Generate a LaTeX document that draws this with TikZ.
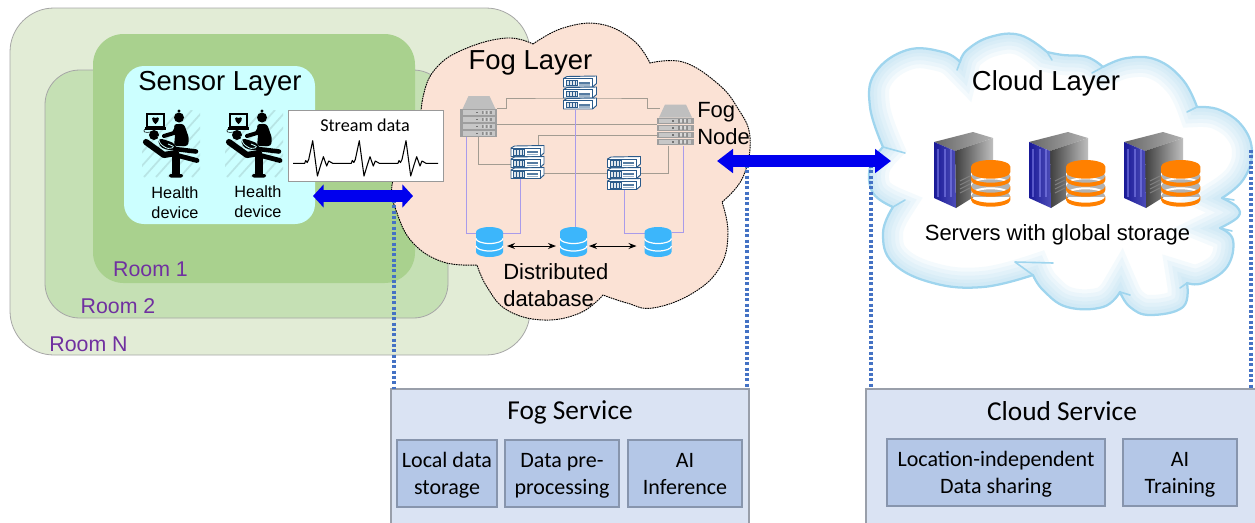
\documentclass[tikz,border=0pt]{standalone}
\usepackage{fontspec}
\setmainfont{Liberation Sans}
\newfontfamily\calfont{Carlito}
\usetikzlibrary{arrows.meta,calc}
\definecolor{roomn}{HTML}{E2ECD6}
\definecolor{roomb}{HTML}{C5E0B4}
\definecolor{rooma}{HTML}{A9D18E}
\definecolor{sens}{HTML}{CCFFFF}
\definecolor{fogc}{HTML}{FBE2D5}
\definecolor{svc}{HTML}{DAE3F3}
\definecolor{sub}{HTML}{B4C7E7}
\definecolor{roomtxt}{HTML}{7030A0}
\definecolor{dotblue}{HTML}{4472C4}
\definecolor{arrowblue}{HTML}{0000EE}
\definecolor{cloudb}{HTML}{9FD5EE}
\definecolor{linkg}{HTML}{A39C92}
\definecolor{linkp}{HTML}{A99BEA}
\definecolor{navy}{HTML}{2A5A8A}
\definecolor{dbblue}{HTML}{3CB6FB}
\definecolor{dbor}{HTML}{FF8000}
\newcommand{\twolines}[2]{\raisebox{-1.9pt}[\height][\depth]{\begin{tabular}{@{}c@{}}#1\\#2\end{tabular}}}
\tikzset{
  pxbox/.style 2 args={minimum width=#1*0.75pt,minimum height=#2*0.75pt,inner sep=0pt,outer sep=0pt},
  room/.style={draw=black!35,line width=.6pt},
  roomlabel/.style={text=roomtxt,font=\fontsize{16}{20}\selectfont,inner sep=0pt},
  layertitle/.style={font=\fontsize{20.6}{25}\selectfont,inner sep=0pt},
  midtext/.style={font=\fontsize{16.5}{20.25}\selectfont,align=center,inner sep=0pt},
  healthtext/.style={font=\fontsize{12.2}{15}\selectfont,align=center,inner sep=0pt},
  svcbox/.style={fill=svc,draw=black!30!svc,line width=.8pt},
  subbox/.style={fill=sub,draw=black!25!sub,line width=.8pt,font=\calfont\fontsize{16.5}{20.25}\selectfont},
  svctitle/.style={font=\calfont\fontsize{20.5}{25}\selectfont,inner sep=0pt},
  dotline/.style={draw=dotblue,line width=2.6pt,dash pattern=on 2.2pt off 1.8pt},
  bigarrow/.style={arrowblue,line width=9pt},
  glink/.style={linkg,line width=.75pt},
  plink/.style={linkp,line width=.75pt},
  dblarrow/.style={black,line width=.7pt,{Stealth[length=6pt,width=4.5pt]}-{Stealth[length=6pt,width=4.5pt]}},
  pics/grayserver/.style={code={
    \fill[black!25] (-16,-7.5) -- (-10,-20.5) -- (11,-20.5) -- (17,-7.5) -- cycle;
    \foreach \i in {0,1,2,3}{
      \pgfmathsetmacro\yy{-7.5+7*\i}
      \fill[black!38] (-18.5,\yy) rectangle (18.5,\yy+6.7);
      \fill[black!22] (-16,\yy+1.2) rectangle (16,\yy+5.5);
      \fill[black!55] (-3,\yy+2.5) rectangle (-1,\yy+4.2);
      \fill[black!45] (3,\yy+1.5) rectangle (13,\yy+5);
      \fill[black!15] (5,\yy+1.5) rectangle (7,\yy+5) (9,\yy+1.5) rectangle (11,\yy+5);
    }
  }},
  pics/rackserver/.style={code={
    \foreach \i in {0,1,2}{
      \pgfmathsetmacro\yy{-16.5+11*\i}
      \draw[navy,line width=.7pt,fill=white,line join=round] (-16.5,\yy+2) -- (-13,\yy) -- (16.5,\yy-.5) -- (16.5,\yy+7) -- (12.5,\yy+10.5) -- (-16.5,\yy+10.5) -- cycle;
      \draw[navy,line width=.4pt] (12.5,\yy+10.5) -- (12.5,\yy+2) -- (-16.5,\yy+2);
      \draw[navy,line width=.35pt,fill=navy!15] (-14,\yy+3.5) rectangle (-3,\yy+9);
      \foreach \s in {-11,-8,-5}{\draw[navy,line width=.4pt] (\s,\yy+4) -- (\s,\yy+8.5);}
      \fill[navy!80] (-1,\yy+5) rectangle (10,\yy+7);
      \fill[navy!45] (-1,\yy+7.5) rectangle (10,\yy+9);
    }
  }},
  pics/bluedb/.style={code={
    \fill[dbblue] (-13.5,-10) arc[start angle=180,end angle=360,x radius=13.5,y radius=5] -- (13.5,10) arc[start angle=0,end angle=180,x radius=13.5,y radius=5] -- cycle;
    \draw[white,line width=.9pt] (-13.5,-3.5) arc[start angle=180,end angle=0,x radius=13.5,y radius=5];
    \draw[white,line width=.9pt] (-13.5,4) arc[start angle=180,end angle=0,x radius=13.5,y radius=5];
  }},
  pics/cloudserver/.style={code={
    \shade[left color=black!60,right color=black!30] (14,17) -- (53,7) -- (73,13) -- (35,26) -- cycle;
    \shade[left color=black!75,right color=black!25] (35,26) -- (73,13) -- (73,60) -- (36,83) -- cycle;
    \shade[left color=blue!55!black!90,right color=blue!60!black!70] (14,17) -- (35,26) -- (36,83) -- (14,73) -- cycle;
    \foreach \s in {18,25,31}{\draw[blue!40!white,opacity=.45,line width=1.4pt] (\s,24) -- (\s,72);}
    \foreach \s in {0,1,2,3}{\draw[black!50,line width=.8pt] (40,68-\s*4) -- (50,63-\s*4);}
    \fill[black!30] (51,47) rectangle (90.4,72);
    \foreach \t in {20,10,0}{
      \fill[dbor] (51,51+\t) arc[start angle=180,end angle=0,x radius=19.7,y radius=6.7] -- (90.4,55+\t) arc[start angle=0,end angle=180,x radius=19.7,y radius=6.7] -- cycle;
      \fill[white] (51,49+\t) -- (51,51+\t) arc[start angle=180,end angle=360,x radius=19.7,y radius=6.7] -- (90.4,49+\t) arc[start angle=360,end angle=180,x radius=19.7,y radius=6.7] -- cycle;
    }
    \fill[dbor] (51,41.7) arc[start angle=180,end angle=360,x radius=19.7,y radius=6.7] -- (90.4,47) arc[start angle=0,end angle=180,x radius=19.7,y radius=6.7] -- cycle;
  }},
  pics/patient/.style={code={
    \begin{scope}
      \clip (12,10) rectangle (70,77);
      \foreach \d in {0,12,...,72}{\draw[black!10!sens,line width=1.3pt] (\d-10,77) -- (\d+50,10);}
    \end{scope}
    \draw[black,line width=.9pt,fill=sens] (17,14) rectangle (34,27);
    \fill[black] (25.5,24) .. controls (20,19.5) and (22,15.5) .. (25.5,18) .. controls (29,15.5) and (31,19.5) .. (25.5,24) -- cycle;
    \fill[black] (15,27) rectangle (36,29.5);
    \draw[black,line width=.4pt] (15,29) .. controls (12,32) and (15,33) .. (21,32);
    \fill[black] (49,17.5) circle[radius=5];
    \fill[black] (49,11) circle[radius=1.7];
    \fill[black,rounded corners=2pt] (44,24) -- (54,24) -- (59,38) -- (58,46) -- (44,46) -- (45,36) -- cycle;
    \draw[black,line width=3pt,line cap=round,line join=round] (34,36) -- (44,33) -- (47,27);
    \fill[black] (24,35) circle[radius=5];
    \draw[black,line width=4.6pt,line cap=round,line join=round] (16,42) -- (34,55) -- (46,53);
    \fill[black,rounded corners=3pt] (28,38) -- (36,40) -- (46,44) -- (46,50) -- (36,50) -- (29,46) -- cycle;
    \draw[sens,line width=.6pt,rounded corners=2pt] (28,36) -- (30,44) -- (38,49) -- (45,47) -- (38,44);
    \draw[black,line width=3.4pt,line cap=round,line join=round] (45,49) -- (66,51.5);
    \draw[black,line width=3.6pt,line cap=round] (42,54) -- (67,60.5);
    \fill[black] (42,54) rectangle (50,75);
    \fill[black,rounded corners=1.5pt] (39,74) rectangle (53,77.5);
  }}
}
\newcommand{\fogpath}{plot[smooth,tension=.7] coordinates {(533,44)(563,28)(600,24)(633,40)(650,63)} -- plot[smooth,tension=.7] coordinates {(650,63)(683,62)(717,83)(737,107)(750,137)(743,177)(722,202)} -- plot[smooth,tension=.7] coordinates {(722,202)(728,233)(720,267)(693,293)(653,308)(627,303)(603,295)} -- plot[smooth,tension=.7] coordinates {(603,295)(580,313)(543,320)(507,310)(487,287)(477,265)} -- plot[smooth,tension=.7] coordinates {(477,265)(443,262)(413,243)(397,213)(392,185)(405,155)(420,140)} -- plot[smooth,tension=.7] coordinates {(420,140)(423,97)(437,67)(467,48)(507,38)(533,44)} -- cycle}
\newcommand{\cloudpath}{plot[smooth,tension=.7] coordinates {(960,62)(967,50)(990,37)(1020,35)(1047,52)} -- plot[smooth,tension=.7] coordinates {(1047,52)(1063,55)(1087,57)(1103,67)} -- plot[smooth,tension=.7] coordinates {(1103,67)(1127,58)(1157,60)(1183,80)(1197,107)} -- plot[smooth,tension=.7] coordinates {(1197,107)(1220,110)(1243,127)(1252,153)(1243,180)(1222,198)} -- plot[smooth,tension=.7] coordinates {(1222,198)(1237,207)(1238,217)(1220,228)} -- plot[smooth,tension=.7] coordinates {(1220,228)(1233,240)(1227,267)(1203,283)(1187,283)} -- plot[smooth,tension=.7] coordinates {(1187,283)(1183,307)(1150,315)(1130,307)(1120,292)} -- plot[smooth,tension=.7] coordinates {(1120,292)(1103,307)(1067,307)(1043,290)(1033,275)} -- plot[smooth,tension=.7] coordinates {(1033,275)(983,287)(933,283)(893,263)(883,233)(893,207)} -- plot[smooth,tension=.7] coordinates {(893,207)(873,193)(870,167)(883,147)} -- plot[smooth,tension=.7] coordinates {(883,147)(870,107)(875,73)(907,50)(943,52)(960,62)} -- cycle}
\begin{document}
\begin{tikzpicture}[x=0.75pt,y=-0.75pt]
\useasboundingbox (0,0) rectangle (1255,522);
\begin{scope}
\clip (0,0) rectangle (1255,522);
% rooms
\node[room,fill=roomn,pxbox={520}{347},rounded corners=33pt] (roomN) at (270,181.5) {};
\node[room,fill=roomb,pxbox={403}{248},rounded corners=26pt] (room2) at (246.5,194) {};
\node[fill=rooma,pxbox={322}{249},rounded corners=23pt] (room1) at (254,158.5) {};
\node[fill=sens,pxbox={191}{158},rounded corners=15pt] (sensor) at (219.5,145) {};
\node[roomlabel] (lab1) at (150.5,269) {Room 1};
\node[roomlabel] (lab2) at (118,306.5) {Room 2};
\node[roomlabel] (labN) at (88.5,344.5) {Room N};
\node[layertitle] (senst) at (220,84) {Sensor Layer};
\pic at (130,100) {patient};
\pic at (213,100) {patient};
\node[healthtext] (hd1) at (175,202.5) {Health\\device};
\node[healthtext] (hd2) at (258,202) {Health\\device};
% fog cloud
\draw[fill=fogc,draw=black,line width=.7pt,dash pattern=on 1.2pt off .6pt] \fogpath;
\node[layertitle] (fogt) at (530.5,63) {Fog Layer};
\node[midtext,anchor=west,align=left] (fognode) at (697,124) {Fog\\Node};
\node[midtext,anchor=west,align=left] (dist) at (503,285) {Distributed\\database};
% fog nodes
\node[pxbox={37}{41}] (fs1) at (478.5,116.5) {};
\node[pxbox={37}{41}] (fs2) at (675,125) {};
\node[pxbox={33}{33}] (rk1) at (580,93) {};
\node[pxbox={33}{33}] (rk2) at (527.5,162.5) {};
\node[pxbox={33}{33}] (rk3) at (624,173.5) {};
\node[pxbox={27}{30}] (db1) at (489.5,242) {};
\node[pxbox={27}{30}] (db2) at (573.5,242) {};
\node[pxbox={27}{30}] (db3) at (658,242) {};
% links
\draw[glink] ($(fs1.east)+(0,-8.5)$) -- ++(9,0) |- ($(rk1.west)+(0,5)$) -- ($(rk1.east)+(0,5)$) -- ++(51,0) |- ($(fs2.west)+(3,-17)$);
\draw[glink] ($(fs1.east)+(0,8)$) -- ($(fs2.west)+(0,-.5)$);
\draw[glink] ($(fs2.west)+(0,10)$) -| ($(rk2.north)+(10.5,0)$);
\draw[glink] (fs1.south) |- ($(rk2.west)+(0,1.5)$);
\draw[glink] ($(rk2.east)+(0,10.5)$) -| ($(fs2.south)+(-7,0)$);
\draw[plink] ($(fs1.south)+(-12.5,0)$) |- ($(db1.west)+(0,-9)$);
\draw[plink] ($(rk2.south)+(-7.5,0)$) |- ($(db1.east)+(0,-9)$);
\draw[plink] ($(rk1.south)+(-5,0)$) -- ($(db2.north)+(1.5,0)$);
\draw[plink] (rk3.south) |- ($(db3.west)+(0,-9)$);
\draw[plink] ($(fs2.south)+(8,0)$) |- ($(db3.east)+(0,-10)$);
\pic at (fs1) {grayserver};
\pic at (fs2) {grayserver};
\pic at (rk1) {rackserver};
\pic at (rk2) {rackserver};
\pic at (rk3) {rackserver};
\pic at (db1) {bluedb};
\pic at (db2) {bluedb};
\pic at (db3) {bluedb};
\draw[dblarrow] ($(db1.east)+(4,4)$) -- ($(db2.west)+(-4,4)$);
\draw[dblarrow] ($(db2.east)+(2,4)$) -- ($(db3.west)+(-8,4)$);
% cloud
\begin{scope}
\fill[white] \cloudpath;
\clip \cloudpath;
\foreach \w in {30,24,18,12,7}{\draw[cloudb,opacity=.11,line width=\w pt] \cloudpath;}
\end{scope}
\draw[cloudb,line width=1.7pt,line join=round] \cloudpath;
\draw[cloudb,line width=1.2pt,line cap=round] (960,62) -- (957,70) (1047,52) -- (1052,60) (1103,67) -- (1092,73) (1197,107) -- (1187,112) (1222,198) -- (1234,200) (1220,228) -- (1232,231) (1187,283) -- (1180,288) (1120,292) -- (1130,295) (1033,275) -- (1015,262) (1015,262) -- (1053,263) (893,207) -- (905,200) (883,147) -- (905,153);
\node[layertitle] (cloudt) at (1046,83) {Cloud Layer};
\pic at (920,125) {cloudserver};
\pic at (1015,125) {cloudserver};
\pic at (1110,125) {cloudserver};
\node[midtext] (srv) at (1057.5,235) {Servers with global storage};
% services
\node[svcbox,pxbox={358}{136}] (fogsvc) at (570,457) {};
\node[svcbox,pxbox={391}{136}] (cloudsvc) at (1061.5,457) {};
\node[svctitle] (fogst) at (570,412) {Fog Service};
\node[svctitle] (cloudst) at (1062,411) {Cloud Service};
\node[subbox,pxbox={100}{67}] (s1) at (447,473.5) {\twolines{Local data}{storage}};
\node[subbox,pxbox={114}{67}] (s2) at (562,473.5) {\twolines{Data pre-}{processing}};
\node[subbox,pxbox={114}{67}] (s3) at (685,473.5) {\twolines{AI}{Inference}};
\node[subbox,pxbox={218}{67}] (s4) at (996,472.5) {\twolines{Location-independent}{Data sharing}};
\node[subbox,pxbox={114}{67}] (s5) at (1180,472.5) {\twolines{AI}{Training}};
% dotted drops
\coordinate (d1) at (394,200);
\coordinate (d2) at (747,165);
\coordinate (d3) at (871,165);
\coordinate (d4) at (1251,150);
\draw[dotline] (d1) -- (d1 |- fogsvc.north);
\draw[dotline] (d2) -- (d2 |- fogsvc.north);
\draw[dotline] (d3) -- (d3 |- cloudsvc.north);
\draw[dotline] (d4) -- (d4 |- cloudsvc.north);
% stream data
\node[draw=black!40,fill=white,line width=.6pt,pxbox={155}{71}] (stream) at (365.5,145.5) {};
\node[font=\calfont\fontsize{13.6}{16}\selectfont,inner sep=0pt] (streamt) at (365,125) {Stream data};
\draw[black,line width=.8pt,line join=round] (293,163.3) \foreach \p in {312.7,359.3,406}{ -- (\p-19,163.3) -- (\p-8,163.3) -- (\p-7,160.5) -- (\p-5.5,162.5) -- (\p-4,159.5) -- (\p,140.7) -- (\p+4.7,176) -- (\p+8,165) -- (\p+10.7,156.7) -- (\p+14,166) -- (\p+16,161) -- (\p+20,163.3)} -- (438,163.3);
% big arrows
\coordinate (a1) at (313,196);
\coordinate (a2) at (413,196);
\coordinate (b1) at (717,161);
\coordinate (b2) at (891,161);
\draw[bigarrow,{Triangle[length=8pt,width=17pt]}-{Triangle[length=8pt,width=17pt]}] (a1) -- (a2);
\draw[bigarrow,{Triangle[length=12pt,width=17.5pt]}-{Triangle[length=12pt,width=17.5pt]}] (b1) -- (b2);
\end{scope}
\end{tikzpicture}
\end{document}
